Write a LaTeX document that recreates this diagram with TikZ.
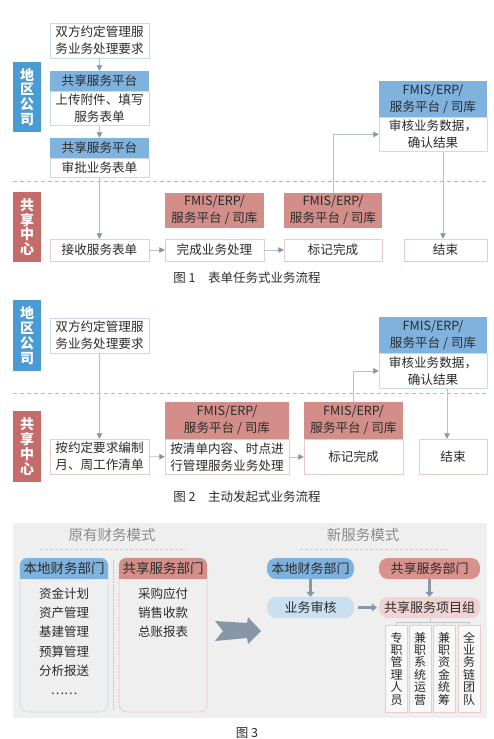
\documentclass[tikz,border=0pt]{standalone}
\usepackage{fontspec}
\setmainfont{Noto Sans CJK SC}
\usepackage{tikz}
\usetikzlibrary{arrows.meta, positioning, calc}
\definecolor{laneblue}{HTML}{4A9AD4}
\definecolor{lanered}{HTML}{C46B6B}
\definecolor{headblue}{HTML}{80B2DE}
\definecolor{headred}{HTML}{D48E8A}
\definecolor{edgeblue}{HTML}{C9DCEC}
\definecolor{edgered}{HTML}{EACBCB}
\definecolor{flowgray}{HTML}{8797A8}
\definecolor{panelgray}{HTML}{EFEFEF}
\definecolor{textdark}{HTML}{2B2B2B}
\definecolor{titlegray}{HTML}{8A8A8A}
\definecolor{pillblue}{HTML}{7EB1DC}
\definecolor{pilllightblue}{HTML}{C9DFF2}
\definecolor{pillred}{HTML}{D8928E}
\definecolor{pilllightred}{HTML}{F1D4D1}

\begin{document}
\begin{tikzpicture}[
    x=1pt, y=-1pt,
    every node/.style={text=textdark, font=\fontsize{12.6}{17}\selectfont},
    lane/.style={rectangle, text=white, minimum width=28pt, minimum height=70pt,
                 inner sep=0pt, align=center, font=\fontsize{14}{14.8}\selectfont\bfseries},
    box/.style={rectangle, draw=edgeblue, fill=white, minimum width=99pt,
                inner sep=1pt, align=center},
    rbox/.style={box, draw=edgered},
    head/.style={rectangle, fill=headblue, minimum width=99pt, minimum height=20pt,
                 inner sep=1pt, align=center},
    rhead/.style={head, fill=headred, minimum height=35pt},
    flow/.style={-{Triangle[length=5.5pt, width=5.5pt, color=flowgray]}, draw=flowgray!60, line width=0.8pt},
    bigflow/.style={-{Triangle[length=5pt, width=8pt]}, draw=flowgray, line width=2.2pt},
    sep/.style={draw=gray!55, line width=0.6pt, dash pattern=on 4pt off 3pt},
    caption/.style={font=\fontsize{12.5}{14}\selectfont},
    modetitle/.style={text=titlegray, font=\fontsize{14.5}{16}\selectfont},
    panelhead/.style={rectangle, rounded corners=7pt, minimum width=88pt, minimum height=21pt,
                      inner sep=0pt, font=\fontsize{13.5}{15}\selectfont},
    pill/.style={rectangle, rounded corners=9pt, minimum height=21pt, inner sep=0pt,
                 font=\fontsize{13}{15}\selectfont},
    member/.style={rectangle, draw=edgered, fill=white!55!panelgray, minimum width=22pt,
                   minimum height=87pt, inner sep=0pt, align=center,
                   font=\fontsize{12}{12.4}\selectfont}
]
\fill[white] (0,0) rectangle (493,739);
\useasboundingbox (0,0) rectangle (493,739);

% ---------- Figure 1 ----------
\node[lane, fill=laneblue] (lanea1) at (27,97) {地\\区\\公\\司};
\node[lane, fill=lanered] (laneb1) at (27,227) {共\\享\\中\\心};
\draw[sep] (13,181) -- (487,181);

\node[box, minimum height=35pt] (req1) at (99.5,40.5) {双方约定管理服\\务业务处理要求};
\node[head] (hd1) at (99.5,81) {共享服务平台};
\node[box, minimum height=34pt, below=0pt of hd1] (bd1) {上传附件、填写\\服务表单};
\node[head] (hd2) at (99.5,148) {共享服务平台};
\node[box, minimum height=19pt, below=0pt of hd2] (bd2) {审批业务表单};

\node[head, minimum width=108pt, minimum height=36pt] (audhd1) at (433,99) {FMIS/ERP/\\服务平台 / 司库};
\node[box, minimum width=108pt, minimum height=34pt, below=0pt of audhd1] (audbd1) {审核业务数据，\\确认结果};

\node[rhead] (fm1) at (214.5,210.5) {FMIS/ERP/\\服务平台 / 司库};
\node[rhead, minimum width=98pt] (fm2) at (333,210.5) {FMIS/ERP/\\服务平台 / 司库};

\node[rbox, minimum height=22pt] (recv) at (99.5,250) {接收服务表单};
\node[rbox, minimum height=22pt] (done) at (214.5,250) {完成业务处理};
\node[rbox, minimum height=22pt, minimum width=98pt] (mark1) at (333,250) {标记完成};
\node[rbox, minimum height=22pt, minimum width=83pt] (fin1) at (445.5,250) {结束};

\draw[flow] (req1) -- (hd1);
\draw[flow] (bd1) -- (hd2);
\draw[flow] (bd2) -- (recv);
\draw[flow] (recv) -- (done);
\draw[flow] (done) -- (mark1);
\draw[flow] (fm2.north) |- (audbd1.west);
\draw[flow] ([xshift=-2.5pt]fin1.north |- audbd1.south) -- ([xshift=-2.5pt]fin1.north);

\node[caption] (cap1) at (247,278) {图 1\quad 表单任务式业务流程};

% ---------- Figure 2 ----------
\node[lane, fill=laneblue, minimum height=71pt] (lanea2) at (27,335.5) {地\\区\\公\\司};
\node[lane, fill=lanered, minimum height=71pt] (laneb2) at (27,446.5) {共\\享\\中\\心};
\draw[sep] (13,393) -- (487,393);

\node[box, minimum height=35pt] (req2) at (99.5,335.5) {双方约定管理服\\务业务处理要求};
\node[head, minimum width=108pt, minimum height=36pt] (audhd2) at (433,335) {FMIS/ERP/\\服务平台 / 司库};
\node[box, minimum width=108pt, minimum height=35pt, below=0pt of audhd2] (audbd2) {审核业务数据，\\确认结果};

\node[rbox, minimum height=35pt] (plan) at (99.5,456.5) {按约定要求编制\\月、周工作清单};
\node[rhead, minimum width=124pt, minimum height=37pt] (fm3) at (227,420.5) {FMIS/ERP/\\服务平台 / 司库};
\node[rbox, minimum width=124pt, minimum height=35pt, below=0pt of fm3] (proc) {按清单内容、时点进\\行管理服务业务处理};
\node[rhead, minimum height=37pt] (fm4) at (353.5,420.5) {FMIS/ERP/\\服务平台 / 司库};
\node[rbox, minimum height=35pt, below=0pt of fm4] (mark2) {标记完成};
\node[rbox, minimum width=68pt, minimum height=35pt] (fin2) at (453,456.5) {结束};

\draw[flow] (req2) -- (plan);
\draw[flow] (plan) -- (proc);
\draw[flow] (proc) -- (mark2);
\draw[flow] (fm4.north) |- (audbd2.west);
\draw[flow] ([xshift=-6pt]fin2.north |- audbd2.south) -- ([xshift=-6pt]fin2.north);

\node[caption] (cap2) at (247,497) {图 2\quad 主动发起式业务流程};

% ---------- Figure 3 ----------
\fill[panelgray] (13,523) rectangle (487,718);

\node[modetitle] (oldtitle) at (112,535) {原有财务模式};
\draw[sep, draw=gray!40, dash pattern=on 3pt off 2pt] (40,549) -- (187,549);
\node[modetitle] (newtitle) at (363,535) {新服务模式};
\draw[sep, draw=gray!40, dash pattern=on 3pt off 2pt] (300,549) -- (447,549);

% old mode panels
\draw[edgeblue, line width=0.7pt, rounded corners=8pt] (20,558) rectangle (108,712);
\fill[headblue] (20,569) rectangle (108,579);
\node[panelhead, fill=headblue] (oldlocal) at (64,568.5) {本地财务部门};
\node[below=5pt of oldlocal, align=center, font=\fontsize{12.5}{19.3}\selectfont] (oldlocalitems)
    {资金计划\\资产管理\\基建管理\\预算管理\\分析报送\\……};

\draw[edgered, line width=0.7pt, rounded corners=8pt] (119,558) rectangle (207,712);
\fill[headred] (119,569) rectangle (207,579);
\node[panelhead, fill=headred] (oldshared) at (163,568.5) {共享服务部门};
\node[below=5pt of oldshared, align=center, font=\fontsize{12.5}{19.3}\selectfont] (oldshareditems)
    {采购应付\\销售收款\\总账报表};

\draw[edgered!80!gray, dash pattern=on 1.5pt off 1.5pt] (113,560) -- (113,710);

% big arrow
\fill[flowgray] (215,621) -- (247,623) -- (248,617) -- (261,631) -- (248,644)
    -- (247,638) -- (215,641) -- (223,631) -- cycle;

% new mode
\node[pill, fill=pillblue, minimum width=87pt] (newlocal) at (310.5,568.5) {本地财务部门};
\node[pill, fill=pilllightblue, minimum width=87pt] (review) at (310.5,607.5) {业务审核};
\node[pill, fill=pillred, minimum width=101pt] (newshared) at (429.5,568.5) {共享服务部门};
\node[pill, fill=pilllightred, minimum width=101pt] (team) at (429.5,607.5) {共享服务项目组};

\draw[bigflow] (newlocal) -- (review);
\draw[bigflow] (newshared) -- (team);
\draw[bigflow, shorten <=4pt, shorten >=2pt] (review) -- (team);

\node[member] (mem1) at (396.5,668.5) {专\\职\\管\\理\\人\\员};
\node[member] (mem2) at (420,668.5) {兼\\职\\系\\统\\运\\营};
\node[member] (mem3) at (444,668.5) {兼\\职\\资\\金\\统\\筹};
\node[member] (mem4) at (469,668.5) {全\\业\\务\\链\\团\\队};

\coordinate (fork) at (430,622);
\draw[gray!45, line width=0.6pt] (team.south -| fork) -- (fork);
\draw[gray!45, line width=0.6pt] (mem1.north) -- (mem1.north |- fork) -- (mem4.north |- fork) -- (mem4.north);
\draw[gray!45, line width=0.6pt] (mem2.north) -- (mem2.north |- fork);
\draw[gray!45, line width=0.6pt] (mem3.north) -- (mem3.north |- fork);

\node[caption] (cap3) at (247,733) {图 3};

\end{tikzpicture}
\end{document}
